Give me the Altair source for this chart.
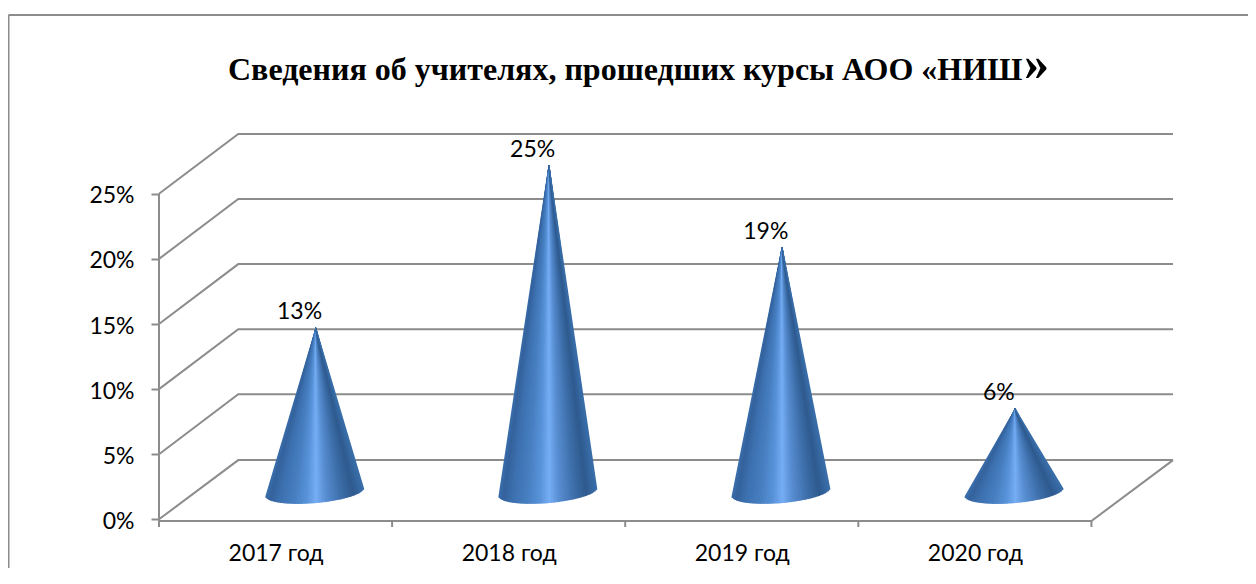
import json
import math
import altair as alt
import pandas as pd

title_main = "Сведения об учителях, прошедших курсы АОО «НИШ"
title_end = "»"
categories = ["2017 год", "2018 год", "2019 год", "2020 год"]
labels = ["13%", "25%", "19%", "6%"]
heights = [12.5, 25.0, 18.7, 6.3]
y_ticks = [0, 5, 10, 15, 20, 25]

X_DOMAIN = [0, 4.35]
Y_DOMAIN = [-0.59, 29.67]
DEPTH_X = 0.34
DEPTH_Y = 4.6
FLOOR_Y = -0.13
GRID = "#8c8c8c"

shade_stops = [
    (0.00, (58, 110, 172)), (0.05, (52, 98, 156)), (0.15, (61, 113, 176)),
    (0.30, (72, 128, 194)), (0.42, (88, 146, 216)), (0.52, (118, 174, 244)),
    (0.62, (88, 142, 210)), (0.76, (64, 114, 174)), (0.90, (46, 90, 142)),
    (1.00, (58, 110, 170)),
]


def shade(s):
    for (a, ca), (b, cb) in zip(shade_stops, shade_stops[1:]):
        if a <= s <= b:
            f = (s - a) / (b - a)
            r, g, bl = (round(p + (q - p) * f) for p, q in zip(ca, cb))
            return f"#{r:02x}{g:02x}{bl:02x}"
    return "#3a6eaa"


x_scale = alt.Scale(domain=X_DOMAIN, nice=False, zero=False)
y_scale = alt.Scale(domain=Y_DOMAIN, nice=False, zero=False)

x_label_expr = json.dumps(categories, ensure_ascii=False) + "[floor(datum.value)]"
x_axis = alt.Axis(values=[0.5, 1.5, 2.5, 3.5], ticks=False, domain=False, grid=False,
                  labelExpr=x_label_expr, labelFont="Lato", labelFontSize=23,
                  labelColor="#000000", labelPadding=15, title=None)
y_axis = alt.Axis(values=y_ticks, domain=False, grid=False, tickSize=8, tickColor=GRID,
                  tickWidth=2, labelExpr="datum.value + '%'", labelFont="Lato",
                  labelFontSize=23, labelColor="#000000", labelPadding=17, labelOffset=2,
                  title=None)


def X():
    return alt.X("x:Q", scale=x_scale, axis=x_axis)


def Y():
    return alt.Y("y:Q", scale=y_scale, axis=y_axis)


# ---- wireframe of the 3D box -------------------------------------------
segments = []
seg_id = 0
for t in y_ticks:
    back = t + DEPTH_Y if t else DEPTH_Y - 0.05
    for o, (x, y) in enumerate([(0, t), (DEPTH_X, back), (X_DOMAIN[1], back)]):
        segments.append({"x": x, "y": y, "k": seg_id, "o": o})
    seg_id += 1
for o, (x, y) in enumerate([(0, FLOOR_Y), (4, FLOOR_Y), (X_DOMAIN[1], DEPTH_Y - 0.05)]):
    segments.append({"x": x, "y": y, "k": seg_id, "o": o})
seg_id += 1
for o, (x, y) in enumerate([(0, 25), (0, Y_DOMAIN[0])]):
    segments.append({"x": x, "y": y, "k": seg_id, "o": o})
for tick in range(5):
    seg_id += 1
    for o, y in enumerate([FLOOR_Y, Y_DOMAIN[0]]):
        segments.append({"x": tick, "y": y, "k": seg_id, "o": o})

wire = (
    alt.Chart(pd.DataFrame(segments))
    .mark_line(color=GRID, strokeWidth=2, clip=False)
    .encode(x=X(), y=Y(), detail="k:N", order="o:Q")
)

# ---- outer frame (only its left and top edges are on the page) ---------
frame_df = pd.DataFrame(
    [
        {"x": -0.6456, "y": 38.73, "k": 0, "o": 0},
        {"x": -0.6456, "y": -5.0, "k": 0, "o": 1},
        {"x": -0.6456, "y": 38.73, "k": 1, "o": 0},
        {"x": 4.706, "y": 38.73, "k": 1, "o": 1},
    ]
)
frame = (
    alt.Chart(frame_df)
    .mark_line(color=GRID, strokeWidth=2, clip=False)
    .encode(x=X(), y=Y(), detail="k:N", order="o:Q")
)

# ---- cones: fans of tapered slices from apex to the front of the base ---
N = 70
HALF_W = 0.21
BASE_B = 0.845
TILT = 0.31
FLOOR_MID = 2.17
rows = []
for i, h in enumerate(heights):
    cx = i + 0.668
    apex = (cx + 0.005, h + FLOOR_MID)
    for j in range(N):
        s = (j + 0.5) / N
        t = math.acos(1 - 2 * s)
        bx = cx - HALF_W * math.cos(t)
        by = FLOOR_MID - BASE_B * math.sin(t) - TILT * math.cos(t)
        key = f"{i}-{j:03d}"
        c = shade(s)
        rows.append({"x": apex[0], "y": apex[1], "k": key, "o": 0, "w": 0.0, "c": c})
        rows.append({"x": bx, "y": by, "k": key, "o": 1, "w": 2.4, "c": c})

cones = (
    alt.Chart(pd.DataFrame(rows))
    .mark_trail(clip=False)
    .encode(
        x=X(),
        y=Y(),
        detail="k:N",
        order="o:Q",
        color=alt.Color("c:N", scale=None),
        size=alt.Size("w:Q", scale=None),
    )
)

# ---- data labels -------------------------------------------------------
label_df = pd.DataFrame(
    {
        "x": [i + 0.668 - 0.065 for i in range(4)],
        "y": [h + FLOOR_MID for h in heights],
        "t": labels,
    }
)
label_marks = (
    alt.Chart(label_df)
    .mark_text(font="Lato", fontSize=23, color="#000000", dy=-16, clip=False)
    .encode(x=X(), y=Y(), text="t:N")
)

title_tail = (
    alt.Chart(pd.DataFrame({"t": [title_end]}))
    .mark_text(font="Liberation Serif", fontWeight="bold", fontSize=50, color="#000000",
               align="left", baseline="alphabetic", clip=False)
    .encode(x=alt.value(865), y=alt.value(-53.5), text="t:N")
)

chart = (
    alt.layer(wire, frame, cones, label_marks, title_tail)
    .properties(
        width=1014,
        height=394,
        padding={"left": 151, "top": 125, "right": 75, "bottom": 41},
        autosize=alt.AutoSizeParams(type="none"),
        background="white",
        title=alt.TitleParams(
            text=title_main, anchor="start", frame="group", dx=69, offset=-101,
            font="Liberation Serif", fontWeight="bold", fontSize=32, color="#000000",
            baseline="alphabetic",
        ),
    )
    .configure_view(stroke=None)
)

chart.save("out.html", embed_options={"renderer": "svg", "actions": False})
